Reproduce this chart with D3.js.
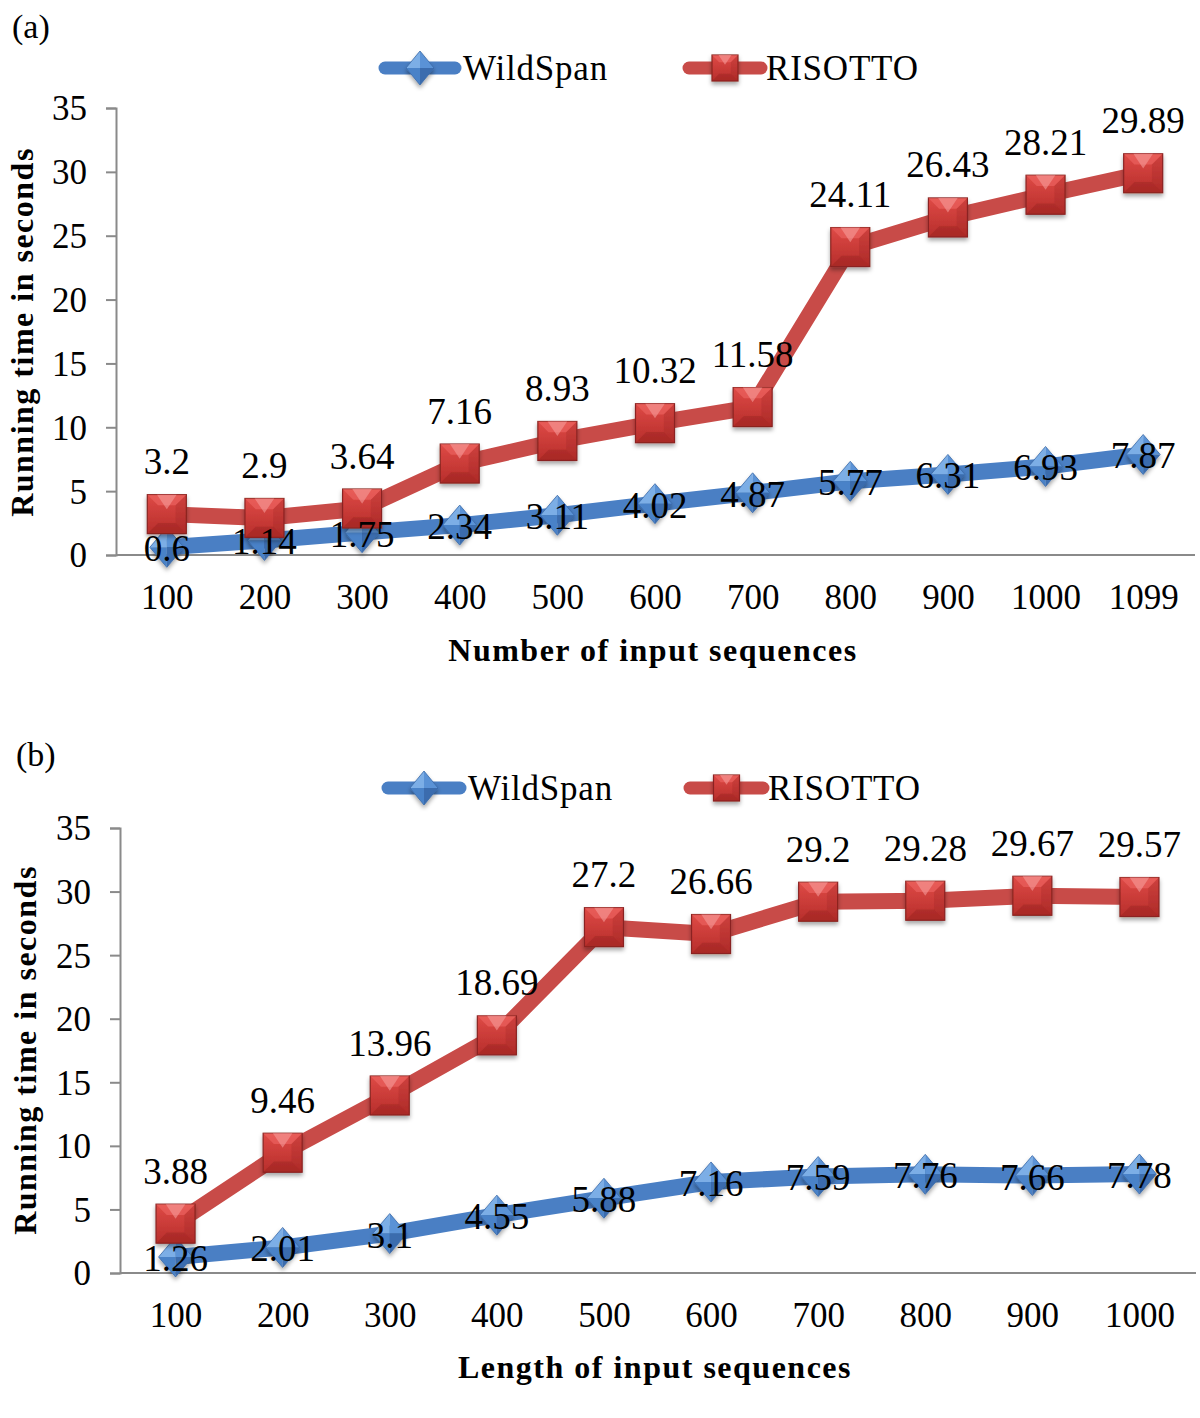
<!DOCTYPE html>
<html><head><meta charset="utf-8">
<script src="https://cdn.jsdelivr.net/npm/d3@7"></script>
<style>
html,body{margin:0;padding:0;background:#fff;}
svg text{font-family:"Liberation Serif","Times New Roman",serif;fill:#000;}
</style></head>
<body>
<svg id="chart" width="1200" height="1418"></svg>
<script>
// ---------- data ----------
const seriesNames = ["WildSpan", "RISOTTO"];
const yTicks = [0, 5, 10, 15, 20, 25, 30, 35];

const categoriesA = ["100","200","300","400","500","600","700","800","900","1000","1099"];
const wildSpanA = [0.6, 1.14, 1.75, 2.34, 3.11, 4.02, 4.87, 5.77, 6.31, 6.93, 7.87];
const risottoA  = [3.2, 2.9, 3.64, 7.16, 8.93, 10.32, 11.58, 24.11, 26.43, 28.21, 29.89];

const categoriesB = ["100","200","300","400","500","600","700","800","900","1000"];
const wildSpanB = [1.26, 2.01, 3.1, 4.55, 5.88, 7.16, 7.59, 7.76, 7.66, 7.78];
const risottoB  = [3.88, 9.46, 13.96, 18.69, 27.2, 26.66, 29.2, 29.28, 29.67, 29.57];

const panelLabels = ["(a)", "(b)"];
const xTitles = ["Number of input sequences", "Length of input sequences"];
const yTitle = "Running time in seconds";

// ---------- drawing ----------
const svg = d3.select("#chart");
const defs = svg.append("defs");

const sh = defs.append("filter").attr("id","shadow").attr("x","-50%").attr("y","-50%").attr("width","200%").attr("height","200%");
sh.append("feDropShadow").attr("dx",0).attr("dy",3).attr("stdDeviation",2.2).attr("flood-color","#000").attr("flood-opacity",0.35);

const rg = defs.append("linearGradient").attr("id","redGrad").attr("x1",0).attr("y1",0).attr("x2",0).attr("y2",1);
rg.append("stop").attr("offset","0%").attr("stop-color","#DE4A46");
rg.append("stop").attr("offset","100%").attr("stop-color","#B72E2B");

const RED_LINE = "#C84B48";
const BLUE_LINE = "#4A7FC4";
const FONT = "Liberation Serif";

function square(g, cx, cy, s) {
  const h = s / 2;
  const m = g.append("g").attr("filter","url(#shadow)");
  m.append("rect").attr("x", cx - h).attr("y", cy - h).attr("width", s).attr("height", s)
    .attr("fill","url(#redGrad)").attr("stroke","#8A2421").attr("stroke-width",1.2);
  m.append("path").attr("d", `M${cx-h},${cy-h}L${cx+h},${cy-h}L${cx+h*0.45},${cy-h*0.45}L${cx-h*0.45},${cy-h*0.45}Z`)
    .attr("fill","#F06A66").attr("opacity",0.55);
  m.append("path").attr("d", `M${cx-h*0.5},${cy-h}L${cx+h*0.5},${cy-h}L${cx},${cy-h*0.25}Z`)
    .attr("fill","#F7A3A0").attr("opacity",0.55);
  m.append("path").attr("d", `M${cx-h},${cy+h}L${cx+h},${cy+h}L${cx+h*0.45},${cy+h*0.45}L${cx-h*0.45},${cy+h*0.45}Z`)
    .attr("fill","#8E201D").attr("opacity",0.35);
  m.append("path").attr("d", `M${cx+h},${cy-h}L${cx+h},${cy+h}L${cx+h*0.45},${cy+h*0.45}L${cx+h*0.45},${cy-h*0.45}Z`)
    .attr("fill","#8E201D").attr("opacity",0.2);
}

function diamond(g, cx, cy, w, hgt) {
  const a = w / 2, b = hgt / 2;
  const m = g.append("g").attr("filter","url(#shadow)");
  m.append("path").attr("d", `M${cx},${cy-b}L${cx-a},${cy}L${cx},${cy}Z`).attr("fill","#7CAEE6");
  m.append("path").attr("d", `M${cx},${cy-b}L${cx+a},${cy}L${cx},${cy}Z`).attr("fill","#5A92D6");
  m.append("path").attr("d", `M${cx-a},${cy}L${cx},${cy+b}L${cx},${cy}Z`).attr("fill","#4A82C8");
  m.append("path").attr("d", `M${cx+a},${cy}L${cx},${cy+b}L${cx},${cy}Z`).attr("fill","#3A6CAE");
  m.append("path").attr("d", `M${cx},${cy-b}L${cx+a},${cy}L${cx},${cy+b}L${cx-a},${cy}Z`)
    .attr("fill","none").attr("stroke","#3A6AA8").attr("stroke-width",0.8);
}

function drawPanel(cfg) {
  const g = svg.append("g");
  const x = d3.scalePoint().domain(cfg.categories).range(cfg.xRange).padding(0.5);
  const y = d3.scaleLinear().domain([0, 35]).range(cfg.yRange);

  g.append("text").attr("x", cfg.labelPos[0]).attr("y", cfg.labelPos[1])
    .attr("font-size", 34).text(cfg.label);

  // y axis
  const yAxis = d3.axisLeft(y).tickValues(yTicks).tickSize(10).tickPadding(19).tickFormat(d3.format("d"));
  const ya = g.append("g").attr("transform", `translate(${cfg.xRange[0] - 2},0)`).call(yAxis);
  ya.select(".domain").attr("stroke","#8A8A8A").attr("stroke-width",2);
  ya.selectAll(".tick line").attr("stroke","#8A8A8A").attr("stroke-width",2);
  ya.selectAll(".tick text").attr("font-size",35).attr("font-family",FONT).attr("fill","#000").attr("dy","0.34em");

  // x axis
  const xAxis = d3.axisBottom(x).tickSize(0).tickPadding(29);
  const xa = g.append("g").attr("transform", `translate(0,${cfg.yRange[0]})`).call(xAxis);
  xa.select(".domain").attr("d", `M${cfg.xRange[0]-2},0H${cfg.xRange[1]+3}`).attr("stroke","#8A8A8A").attr("stroke-width",2);
  xa.selectAll(".tick text").attr("font-size",35).attr("font-family",FONT).attr("fill","#000").attr("dy","0.71em");

  // axis titles
  g.append("text").attr("x", cfg.xTitlePos[0]).attr("y", cfg.xTitlePos[1])
    .attr("text-anchor","middle").attr("font-size",32).attr("font-weight","bold")
    .attr("letter-spacing","1.5px").text(cfg.xTitle);
  g.append("text").attr("transform", `translate(${cfg.yTitlePos[0]},${cfg.yTitlePos[1]}) rotate(-90)`)
    .attr("text-anchor","middle").attr("font-size",32).attr("font-weight","bold")
    .attr("letter-spacing","1.5px").text(yTitle);

  const line = d3.line().x((d, i) => x(cfg.categories[i])).y(d => y(d));

  g.append("path").datum(cfg.wild).attr("d", line).attr("fill","none")
    .attr("stroke", BLUE_LINE).attr("stroke-width",16).attr("stroke-linejoin","round");
  g.append("path").datum(cfg.ris).attr("d", line).attr("fill","none")
    .attr("stroke", RED_LINE).attr("stroke-width",16).attr("stroke-linejoin","round");

  const mk = g.append("g");
  cfg.wild.forEach((v, i) => diamond(mk, x(cfg.categories[i]), y(v), 34, 40));
  cfg.ris.forEach((v, i) => square(mk, x(cfg.categories[i]), y(v), 39));

  // data labels
  const lab = g.append("g").attr("font-size",37).attr("text-anchor","middle");
  cfg.wild.forEach((v, i) => lab.append("text").attr("x", x(cfg.categories[i])).attr("y", y(v) + 14).text(v));
  cfg.ris.forEach((v, i) => lab.append("text").attr("x", x(cfg.categories[i])).attr("y", y(v) - 40).text(v));

  // legend
  const lg = g.append("g");
  const L = cfg.legend;
  lg.append("line").attr("x1", L.blue[0]).attr("x2", L.blue[1]).attr("y1", L.y).attr("y2", L.y)
    .attr("stroke", BLUE_LINE).attr("stroke-width",13).attr("stroke-linecap","round");
  diamond(lg, (L.blue[0] + L.blue[1]) / 2, L.y, 28, 34);
  lg.append("text").attr("x", L.blue[1] + 8).attr("y", L.y + 12).attr("font-size",35).attr("letter-spacing","0.8px").text(seriesNames[0]);
  lg.append("line").attr("x1", L.red[0]).attr("x2", L.red[1]).attr("y1", L.y).attr("y2", L.y)
    .attr("stroke", RED_LINE).attr("stroke-width",13).attr("stroke-linecap","round");
  square(lg, (L.red[0] + L.red[1]) / 2, L.y, 26);
  lg.append("text").attr("x", L.red[1] + 5).attr("y", L.y + 12).attr("font-size",35).attr("letter-spacing","0.8px").text(seriesNames[1]);
}

drawPanel({
  label: panelLabels[0], labelPos: [12, 38],
  categories: categoriesA, wild: wildSpanA, ris: risottoA,
  xRange: [118, 1192], yRange: [555, 108],
  xTitle: xTitles[0], xTitlePos: [653, 661], yTitlePos: [33, 332],
  legend: { y: 68, blue: [385, 455], red: [689, 761] }
});

drawPanel({
  label: panelLabels[1], labelPos: [16, 766],
  categories: categoriesB, wild: wildSpanB, ris: risottoB,
  xRange: [122, 1193], yRange: [1273, 828],
  xTitle: xTitles[1], xTitlePos: [655, 1378], yTitlePos: [36, 1050],
  legend: { y: 788, blue: [388, 460], red: [690, 763] }
});
</script>
</body></html>
